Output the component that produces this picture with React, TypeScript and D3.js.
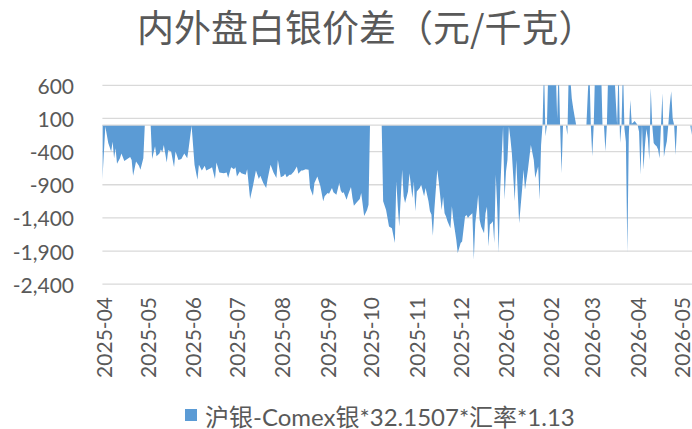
import React from "react";
import * as d3 from "d3";

// 内外盘白银价差 daily series (元/千克)
const dates = [
  "2025-04-01", "2025-04-03", "2025-04-05", "2025-04-07", "2025-04-08", "2025-04-09", "2025-04-10", "2025-04-11",
  "2025-04-13", "2025-04-14", "2025-04-16", "2025-04-18", "2025-04-20", "2025-04-21", "2025-04-22", "2025-04-24",
  "2025-04-26", "2025-04-27", "2025-04-29", "2025-04-30", "2025-05-04", "2025-05-05", "2025-05-07", "2025-05-08",
  "2025-05-10", "2025-05-11", "2025-05-12", "2025-05-13", "2025-05-15", "2025-05-16", "2025-05-18", "2025-05-20",
  "2025-05-21", "2025-05-23", "2025-05-25", "2025-05-27", "2025-05-29", "2025-05-30", "2025-06-01", "2025-06-03",
  "2025-06-05", "2025-06-06", "2025-06-08", "2025-06-10", "2025-06-11", "2025-06-14", "2025-06-15", "2025-06-17",
  "2025-06-18", "2025-06-20", "2025-06-23", "2025-06-25", "2025-06-26", "2025-06-28", "2025-06-30", "2025-07-01",
  "2025-07-02", "2025-07-04", "2025-07-05", "2025-07-08", "2025-07-09", "2025-07-11", "2025-07-13", "2025-07-15",
  "2025-07-17", "2025-07-18", "2025-07-20", "2025-07-22", "2025-07-23", "2025-07-25", "2025-07-27", "2025-07-29",
  "2025-07-30", "2025-08-01", "2025-08-03", "2025-08-04", "2025-08-05", "2025-08-07", "2025-08-08", "2025-08-10",
  "2025-08-12", "2025-08-13", "2025-08-15", "2025-08-16", "2025-08-18", "2025-08-20", "2025-08-21", "2025-08-23",
  "2025-08-24", "2025-08-26", "2025-08-28", "2025-08-30", "2025-08-31", "2025-09-02", "2025-09-03", "2025-09-05",
  "2025-09-06", "2025-09-08", "2025-09-10", "2025-09-11", "2025-09-12", "2025-09-13", "2025-09-15", "2025-09-16",
  "2025-09-18", "2025-09-19", "2025-09-20", "2025-09-22", "2025-09-24", "2025-09-25", "2025-09-27", "2025-09-29",
  "2025-09-30", "2025-10-01", "2025-10-09", "2025-10-10", "2025-10-12", "2025-10-14", "2025-10-16", "2025-10-18",
  "2025-10-19", "2025-10-20", "2025-10-21", "2025-10-23", "2025-10-24", "2025-10-25", "2025-10-27", "2025-10-28",
  "2025-10-30", "2025-10-31", "2025-11-01", "2025-11-02", "2025-11-04", "2025-11-05", "2025-11-07", "2025-11-08",
  "2025-11-10", "2025-11-11", "2025-11-12", "2025-11-13", "2025-11-14", "2025-11-16", "2025-11-17", "2025-11-19",
  "2025-11-20", "2025-11-21", "2025-11-22", "2025-11-23", "2025-11-25", "2025-11-26", "2025-11-27", "2025-11-29",
  "2025-11-30", "2025-12-02", "2025-12-03", "2025-12-05", "2025-12-06", "2025-12-07", "2025-12-08", "2025-12-10",
  "2025-12-11", "2025-12-12", "2025-12-13", "2025-12-14", "2025-12-15", "2025-12-16", "2025-12-18", "2025-12-19",
  "2025-12-20", "2025-12-21", "2025-12-22", "2025-12-23", "2025-12-24", "2025-12-25", "2025-12-26", "2025-12-27",
  "2025-12-28", "2025-12-29", "2025-12-30", "2025-12-31", "2026-01-01", "2026-01-02", "2026-01-03", "2026-01-04",
  "2026-01-05", "2026-01-06", "2026-01-08", "2026-01-09", "2026-01-11", "2026-01-13", "2026-01-14", "2026-01-15",
  "2026-01-17", "2026-01-19", "2026-01-21", "2026-01-22", "2026-01-24", "2026-01-25", "2026-01-26", "2026-01-27",
  "2026-01-28", "2026-01-29", "2026-01-30", "2026-01-31", "2026-02-01", "2026-02-02", "2026-02-03", "2026-02-04",
  "2026-02-05", "2026-02-06", "2026-02-07", "2026-02-08", "2026-02-09", "2026-02-10", "2026-02-12", "2026-02-13",
  "2026-02-14", "2026-02-15", "2026-02-16", "2026-02-17", "2026-02-18", "2026-02-19", "2026-02-26", "2026-02-27",
  "2026-02-28", "2026-03-01", "2026-03-02", "2026-03-03", "2026-03-04", "2026-03-05", "2026-03-06", "2026-03-07",
  "2026-03-08", "2026-03-09", "2026-03-10", "2026-03-11", "2026-03-12", "2026-03-13", "2026-03-14", "2026-03-15",
  "2026-03-16", "2026-03-17", "2026-03-18", "2026-03-19", "2026-03-20", "2026-03-21", "2026-03-22", "2026-03-23",
  "2026-03-24", "2026-03-25", "2026-03-26", "2026-03-27", "2026-03-28", "2026-03-29", "2026-03-30", "2026-03-31",
  "2026-04-01", "2026-04-02", "2026-04-03", "2026-04-04", "2026-04-05", "2026-04-06", "2026-04-07", "2026-04-08",
  "2026-04-09", "2026-04-10", "2026-04-11", "2026-04-12", "2026-04-13", "2026-04-14", "2026-04-15", "2026-04-16",
  "2026-04-17", "2026-04-18", "2026-04-19", "2026-04-20", "2026-04-21", "2026-04-22", "2026-04-23", "2026-04-24",
  "2026-04-25", "2026-04-26", "2026-04-27", "2026-04-28", "2026-04-29", "2026-05-08", "2026-05-09",
];

const spread = [
  -825, -20, -270, -400, -250, -500, -350, -585,
  -500, -430, -540, -510, -480, -525, -765, -550,
  -615, -675, -500, 0, 0, -510, -320, -470,
  -430, -370, -410, -300, -565, -380, -400, -635,
  -400, -525, -510, -430, -500, -350, -10, -600,
  -825, -600, -685, -615, -685, -650, -635, -815,
  -565, -715, -725, -715, -800, -635, -665, -635,
  -775, -700, -725, -750, -665, -1115, -915, -685,
  -815, -765, -875, -950, -815, -600, -715, -800,
  -525, -785, -765, -735, -785, -750, -750, -700,
  -625, -735, -685, -685, -665, -675, -950, -1065,
  -875, -775, -915, -1150, -1075, -1025, -1035, -950,
  -1015, -1050, -875, -985, -1025, -1015, -1125, -1050,
  -935, -1100, -1215, -1165, -1115, -1025, -1370, -1280,
  -1200, 0, 0, -1150, -1280, -1530, -1555, -1780,
  -850, -1225, -1530, -675, -1075, -1175, -1000, -725,
  -1100, -850, -1300, -1000, -950, -900, -1075, -950,
  -1150, -1300, -1350, -1670, -1280, -675, -850, -1280,
  -1085, -1330, -1380, -1450, -1555, -1225, -1430, -1730,
  -1930, -1780, -1755, -1380, -1355, -1400, -1370, -1330,
  -2030, -1480, -1280, -1050, -1430, -1530, -1630, -1330,
  -1230, -1830, -1500, -1480, -1450, -1780, -750, -1230,
  -1930, -1000, -500, -20, -1125, -700, -525, -20,
  -200, -420, -1150, -525, -1480, -975, -675, -975,
  -675, -300, -525, -800, -625, -1125, -300, 0,
  900, -170, 0, 900, 950, 900, 1000, 900,
  850, 100, 900, 0, -725, 0, 0, -150,
  900, 700, 400, 250, 120, 0, 0, 500,
  900, 0, -470, 0, 900, 950, 1000, 950,
  900, 0, 0, -400, 0, 900, 1000, 950,
  900, 850, 400, 0, 900, -270, 0, 900,
  -50, -250, -1930, -150, 380, 20, 40, 60,
  30, 0, -100, -750, 0, -675, -320, -60,
  -200, -525, 560, 0, -270, -300, -320, -370,
  -500, 0, 480, -480, -350, -245, 0, 300,
  510, 100, 0, -450, 0, 0, -150,
];

const yTicks = [600, 100, -400, -900, -1400, -1900, -2400];
const monthTicks = [
  "2025-04", "2025-05", "2025-06", "2025-07", "2025-08", "2025-09", "2025-10",
  "2025-11", "2025-12", "2026-01", "2026-02", "2026-03", "2026-04", "2026-05",
];
const title = "内外盘白银价差（元/千克）";
const seriesName = "沪银-Comex银*32.1507*汇率*1.13";

const W = 692;
const H = 429;
const plot = { left: 102.4, right: 692, top: 85.3, bottom: 284.2 };
const textColor = "#595959";
const gridColor = "#D9D9D9";
const fill = "#5B9BD5";
const font = "Lato, 'Noto Sans CJK SC', sans-serif";

export default function App() {
  const parseDay = d3.timeParse("%Y-%m-%d");
  const parseMonth = d3.timeParse("%Y-%m");

  const x = d3
    .scaleTime()
    .domain([parseDay("2025-04-01") as Date, parseDay("2026-05-01") as Date])
    .range([plot.left, 680]);
  const y = d3.scaleLinear().domain([-2400, 600]).range([plot.bottom, plot.top]);

  const data = dates.map((d, i) => ({ date: parseDay(d) as Date, v: spread[i] }));

  const area = d3
    .area<{ date: Date; v: number }>()
    .x((d) => x(d.date))
    .y0(y(0))
    .y1((d) => y(d.v));

  // excel style: plain hyphen for negatives
  const fmt = (v: number) => d3.format(",")(v).replace("\u2212", "-");

  return (
    <svg
      width={W}
      height={H}
      style={{ position: "absolute", left: 0, top: 0, background: "#fff" }}
      fontFamily={font}
    >
      <text x={137} y={42} fontSize={37} fill={textColor} fontFamily="'Noto Sans CJK SC', sans-serif">
        {title}
      </text>

      {/* gridlines */}
      {yTicks.map((t) => (
        <line key={t} x1={plot.left} x2={plot.right} y1={y(t)} y2={y(t)} stroke={gridColor} strokeWidth={1.3} />
      ))}

      <defs>
        <clipPath id="plotClip">
          <rect x={plot.left} y={plot.top} width={plot.right - plot.left} height={plot.bottom - plot.top} />
        </clipPath>
      </defs>
      <path d={area(data) || ""} fill={fill} clipPath="url(#plotClip)" />

      {/* zero axis line */}
      <line x1={plot.left} x2={plot.right} y1={y(0)} y2={y(0)} stroke={gridColor} strokeWidth={1.3} />

      {/* y labels */}
      {yTicks.map((t) => (
        <text key={t} x={74} y={y(t)} textAnchor="end" dominantBaseline="central" fontSize={21} fill={textColor}>
          {fmt(t)}
        </text>
      ))}

      {/* x labels */}
      {monthTicks.map((m) => {
        const px = x(parseMonth(m) as Date) + 1;
        return (
          <text
            key={m}
            transform={`translate(${px},297) rotate(-90)`}
            textAnchor="end"
            dominantBaseline="central"
            fontSize={21}
            fill={textColor}
          >
            {m}
          </text>
        );
      })}

      {/* legend */}
      <rect x={185} y={409} width={12} height={12} fill={fill} />
      <text x={205} y={416} dominantBaseline="central" fontSize={24} fill={textColor}>
        {seriesName}
      </text>
    </svg>
  );
}
